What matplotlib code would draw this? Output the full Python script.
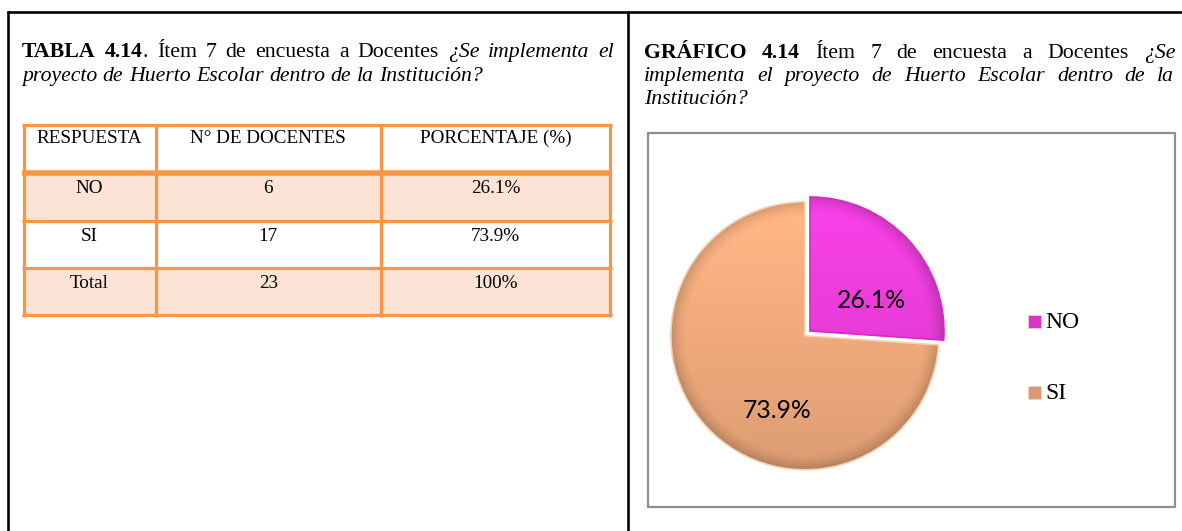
import matplotlib
matplotlib.use("Agg")
import matplotlib.pyplot as plt
from matplotlib.patches import Rectangle, Wedge
import numpy as np

# ---------------- data ----------------
categories = ["NO", "SI"]
docentes = [6, 17]
porcentajes = [26.1, 73.9]
total_label = "Total"
total_docentes = 23
total_pct = "100%"
header = ["RESPUESTA", "N\u00b0 DE DOCENTES", "PORCENTAJE (%)"]
pie_colors = ["#E83CD8", "#F0AA7C"]

# ---------------- figure ----------------
W, H = 1182, 531
fig = plt.figure(figsize=(W / 100, H / 100), dpi=100)
ax = fig.add_axes([0, 0, 1, 1])
ax.set_xlim(0, W)
ax.set_ylim(H, 0)
ax.axis("off")
renderer = fig.canvas.get_renderer()
SERIF = "Liberation Serif"


def seg_width(s, size, weight="normal", style="normal", family=SERIF):
    t = ax.text(0, 0, s, fontsize=size, fontweight=weight, fontstyle=style, family=family)
    w = t.get_window_extent(renderer=renderer).width
    t.remove()
    return w


def space_width(size, style="normal"):
    return seg_width("a a", size, style=style) - seg_width("aa", size, style=style)


def draw_tokens(tokens, x0, yb, size, x1=None):
    widths = [[seg_width(s, size, wt, st) for s, wt, st in tok] for tok in tokens]
    tokw = [sum(w) for w in widths]
    if x1 is None or len(tokens) == 1:
        gap = space_width(size, style=tokens[0][0][2])
    else:
        gap = (x1 - x0 - sum(tokw)) / (len(tokens) - 1)
    x = x0
    for tok, ws in zip(tokens, widths):
        for (s, wt, st), w in zip(tok, ws):
            ax.text(x, yb, s, fontsize=size, fontweight=wt, fontstyle=st,
                    family=SERIF, ha="left", va="baseline", color="black")
            x += w
        x += gap


def words(text, weight="normal", style="normal"):
    return [[(w, weight, style)] for w in text.split()]


# ---------------- titles ----------------
left_l1 = ([[("TABLA", "bold", "normal")], [("4.14", "bold", "normal"), (".", "normal", "normal")]]
           + words("\u00cdtem 7 de encuesta a Docentes")
           + words("\u00bfSe implementa el", style="italic"))
left_l2 = words("proyecto de Huerto Escolar dentro de la Instituci\u00f3n?", style="italic")

title_size = 15.7
draw_tokens(left_l1, 22, 57, title_size, x1=614)
draw_tokens(left_l2, 22, 81, title_size)

right_l1 = ([[("GR\u00c1FICO", "bold", "normal")], [("4.14", "bold", "normal")]]
            + words("\u00cdtem 7 de encuesta a Docentes")
            + words("\u00bfSe", style="italic"))
right_l2 = words("implementa el proyecto de Huerto Escolar dentro de la", style="italic")
right_l3 = words("Instituci\u00f3n?", style="italic")
draw_tokens(right_l1, 644, 58, title_size, x1=1175)
draw_tokens(right_l2, 644, 81, title_size, x1=1174)
draw_tokens(right_l3, 644, 104, title_size)

# ---------------- page frame ----------------
black_lw = 2.6 * 0.72
ax.plot([7, W], [12, 12], color="black", lw=black_lw, solid_capstyle="butt")
ax.plot([8, 8], [11, H], color="black", lw=black_lw, solid_capstyle="butt")
ax.plot([628, 628], [11, H], color="black", lw=black_lw, solid_capstyle="butt")

# ---------------- table ----------------
ORANGE = "#F79646"
FILL = "#FBE4D5"
col_x = [23.5, 155.5, 381, 610]
row_y = [125, 173, 221, 268, 315]
rows = [header] + [[c, str(d), f"{p:.1f}%"] for c, d, p in zip(categories, docentes, porcentajes)] \
       + [[total_label, str(total_docentes), total_pct]]
for i in range(1, len(rows)):
    if i % 2 == 1:
        ax.add_patch(Rectangle((col_x[0], row_y[i]), col_x[-1] - col_x[0], row_y[i + 1] - row_y[i],
                               facecolor=FILL, edgecolor="none", zorder=1))
for j, yv in enumerate(row_y):
    lw = (5.5 if j == 1 else 3.2) * 0.72
    ax.plot([col_x[0] - 1.5, col_x[-1] + 1.5], [yv, yv], color=ORANGE, lw=lw,
            solid_capstyle="butt", zorder=2)
for xv in col_x:
    ax.plot([xv, xv], [row_y[0] - 1.5, row_y[-1] + 1.5], color=ORANGE, lw=3.2 * 0.72,
            solid_capstyle="butt", zorder=2)

table_size = 13.8
for i, row in enumerate(rows):
    yb = row_y[i] + (18 if i == 0 else 20)
    for j, cell in enumerate(row):
        xc = (col_x[j] + col_x[j + 1]) / 2
        ax.text(xc, yb, cell, fontsize=table_size, family=SERIF, ha="center",
                va="baseline", color="black", zorder=3)

# ---------------- chart frame ----------------
ax.add_patch(Rectangle((648, 133), 1175 - 648, 507 - 133, facecolor="white",
                       edgecolor="#8E8E8E", lw=2.2 * 0.72, zorder=1))

# ---------------- pie ----------------
cx, cy, R = 810, 331, 134
half = 150
pax = fig.add_axes([(cx - half) / W, 1 - (cy + half) / H, 2 * half / W, 2 * half / H])
wedges, _ = pax.pie(docentes, colors=pie_colors, startangle=90, counterclock=False,
                    radius=R, explode=[0, 7], center=(0, 0),
                    wedgeprops=dict(linewidth=0))
pax.set_xlim(-half, half)
pax.set_ylim(-half, half)
pax.axis("off")

gx, gy = np.meshgrid(np.linspace(-half, half, 600), np.linspace(-half, half, 600))
for w, base in zip(wedges, pie_colors):
    c = np.array(matplotlib.colors.to_rgb(base))
    wx, wy = w.center
    d = np.hypot(gx - wx, gy - wy) / R
    vert = 0.08 * (gy - wy) / R
    rim = np.clip((d - 0.88) / 0.12, 0, 1) ** 1.5 * 0.18
    f = 1 + vert - rim
    img = np.clip(c[None, None, :] * f[..., None], 0, 1)
    im = pax.imshow(img, extent=(-half, half, -half, half), origin="lower", zorder=2,
                    interpolation="bilinear")
    im.set_clip_path(w)
    edge = "#F6D2B4" if base == pie_colors[1] else "#D22CC4"
    pax.add_patch(Wedge(w.center, w.r, w.theta1, w.theta2,
                        facecolor="none", edgecolor=edge, lw=1.2, zorder=3))

# percentage labels (drawn in the pie axes, positioned in page pixels)
label_pos = [(871, 300), (777, 410)]
pct_size = 10 * 69 / seg_width("26.1%", 10, family="Lato")
for p, (lx, ly) in zip(porcentajes, label_pos):
    pax.text(lx, ly, f"{p:.1f}%", fontsize=pct_size, family="Lato", ha="center",
             va="center", color="black", zorder=6, transform=ax.transData)

# legend
leg_y = [328, 399]
leg_size = 17
for cat, col, yb in zip(categories, ["#D834C8", "#D89A70"], leg_y):
    ax.add_patch(Rectangle((1028, yb - 13), 13, 13, facecolor=col, edgecolor="#E8D0E0",
                           lw=0.6, zorder=4))
    ax.text(1045, yb, cat, fontsize=leg_size, family=SERIF, ha="left", va="baseline",
            color="black", zorder=4)

fig.savefig("out.png", dpi=100)
